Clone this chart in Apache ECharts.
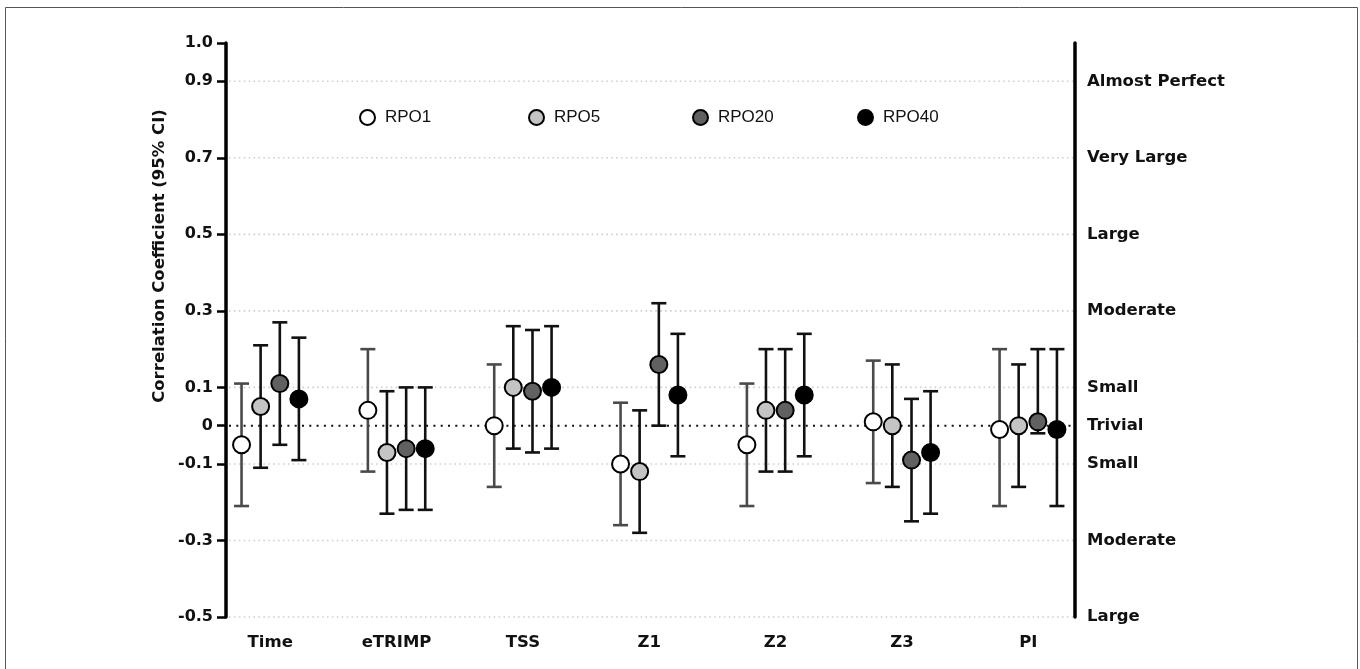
<!DOCTYPE html>
<html>
<head>
<meta charset="utf-8">
<title>Correlation Coefficient (95% CI)</title>
<script src="https://cdn.jsdelivr.net/npm/echarts@6/dist/echarts.min.js"></script>
<style>
  html, body { margin: 0; padding: 0; background: #fff; }
  #chart { width: 1360px; height: 669px; }
</style>
</head>
<body>
<div id="chart"></div>
<script>
// categories on the x axis
var categories = ['Time', 'eTRIMP', 'TSS', 'Z1', 'Z2', 'Z3', 'PI'];
var seriesNames = ['RPO1', 'RPO5', 'RPO20', 'RPO40'];

// point estimates, one value per category
var rpo1  = [-0.05,  0.04, 0.00, -0.10, -0.05,  0.01, -0.01];
var rpo5  = [ 0.05, -0.07, 0.10, -0.12,  0.04,  0.00,  0.00];
var rpo20 = [ 0.11, -0.06, 0.09,  0.16,  0.04, -0.09,  0.01];
var rpo40 = [ 0.07, -0.06, 0.10,  0.08,  0.08, -0.07, -0.01];

// 95% CI lower / upper
var rpo1Low  = [-0.21, -0.12, -0.16, -0.26, -0.21, -0.15, -0.21];
var rpo1High = [ 0.11,  0.20,  0.16,  0.06,  0.11,  0.17,  0.20];
var rpo5Low  = [-0.11, -0.23, -0.06, -0.28, -0.12, -0.16, -0.16];
var rpo5High = [ 0.21,  0.09,  0.26,  0.04,  0.20,  0.16,  0.16];
var rpo20Low  = [-0.05, -0.22, -0.07,  0.00, -0.12, -0.25, -0.02];
var rpo20High = [ 0.27,  0.10,  0.25,  0.32,  0.20,  0.07,  0.20];
var rpo40Low  = [-0.09, -0.22, -0.06, -0.08, -0.08, -0.23, -0.21];
var rpo40High = [ 0.23,  0.10,  0.26,  0.24,  0.24,  0.09,  0.20];

// left axis ticks, right axis magnitude labels
var leftTicks = [-0.5, -0.3, -0.1, 0, 0.1, 0.3, 0.5, 0.7, 0.9, 1.0];
var rightTicks = [-0.5, -0.3, -0.1, 0, 0.1, 0.3, 0.5, 0.7, 0.9];
var rightLabels = ['Large', 'Moderate', 'Small', 'Trivial', 'Small', 'Moderate', 'Large', 'Very Large', 'Almost Perfect'];
var gridValues = [-0.5, -0.3, -0.1, 0.1, 0.3, 0.5, 0.7, 0.9];

var values = [rpo1, rpo5, rpo20, rpo40];
var lows = [rpo1Low, rpo5Low, rpo20Low, rpo40Low];
var highs = [rpo1High, rpo5High, rpo20High, rpo40High];

// look
var fills = ['#ffffff', '#c4c4c4', '#616161', '#000000'];
var barColors = ['#4a4a4a', '#111111', '#111111', '#111111'];
var offsets = [-0.227, -0.076, 0.076, 0.227];
var legendLeft = [354, 523, 687, 852];
var X_MIN = 0.65, X_MAX = 7.37;
var fontFam = 'Liberation Sans, Arial, sans-serif';
var boldFam = 'DejaVu Sans, Liberation Sans, sans-serif';

var chartObj = echarts.init(document.getElementById('chart'));

function findIndex(arr, v) {
	for (var i = 0; i < arr.length; i++) {
		if (Math.abs(arr[i] - v) < 1e-6) return i;
	}
	return -1;
}

var series = [];

// dotted reference lines
series.push({
	type: 'custom',
	name: 'grid',
	silent: true,
	z: 1,
	data: gridValues.concat([0]).map(function (v) { return [v]; }),
	encode: { y: 0 },
	renderItem: function (params, api) {
		var v = api.value(0);
		var y = api.coord([X_MIN, v])[1];
		var cs = params.coordSys;
		var isZero = Math.abs(v) < 1e-9;
		return {
			type: 'line',
			shape: { x1: cs.x + 3, y1: y, x2: cs.x + cs.width - 2, y2: y },
			style: isZero
				? { stroke: '#111', lineWidth: 2, lineDash: [2, 5.3] }
				: { stroke: '#cfcfcf', lineWidth: 1.6, lineDash: [1.6, 3.3] }
		};
	}
});

// error bars
for (var s = 0; s < 4; s++) {
	var barData = [];
	for (var i = 0; i < categories.length; i++) {
		barData.push([i + 1 + offsets[s], lows[s][i], highs[s][i]]);
	}
	(function (color) {
		series.push({
			type: 'custom',
			name: seriesNames[s] + ' CI',
			silent: true,
			z: 2,
			data: barData,
			encode: { x: 0, y: [1, 2] },
			renderItem: function (params, api) {
				var lo = api.coord([api.value(0), api.value(1)]);
				var hi = api.coord([api.value(0), api.value(2)]);
				var w = 7.5;
				var st = { stroke: color, lineWidth: 2.6 };
				return {
					type: 'group',
					children: [
						{ type: 'line', shape: { x1: lo[0], y1: lo[1], x2: hi[0], y2: hi[1] }, style: st },
						{ type: 'line', shape: { x1: lo[0] - w, y1: lo[1], x2: lo[0] + w, y2: lo[1] }, style: st },
						{ type: 'line', shape: { x1: hi[0] - w, y1: hi[1], x2: hi[0] + w, y2: hi[1] }, style: st }
					]
				};
			}
		});
	})(barColors[s]);
}

// points
for (var s = 0; s < 4; s++) {
	var pts = [];
	for (var i = 0; i < categories.length; i++) {
		pts.push([i + 1 + offsets[s], values[s][i]]);
	}
	series.push({
		type: 'scatter',
		name: seriesNames[s],
		z: 3,
		symbol: 'circle',
		symbolSize: 17,
		data: pts,
		itemStyle: { color: fills[s], borderColor: '#000', borderWidth: 2, opacity: 1 },
		emphasis: { disabled: true }
	});
}

// one legend per series so the items sit where the original has them
var legends = seriesNames.map(function (name, k) {
	return {
		data: [name],
		top: 104,
		left: legendLeft[k],
		icon: 'circle',
		itemWidth: 15,
		itemHeight: 15,
		selectedMode: false,
		textStyle: { fontFamily: fontFam, fontSize: 17, color: '#111', padding: [0, 0, 0, 5] }
	};
});

var option = {
	animation: false,
	backgroundColor: '#fff',
	graphic: [{
		type: 'rect',
		shape: { x: 5.5, y: 7.5, width: 1352, height: 700 },
		style: { fill: 'none', stroke: '#555', lineWidth: 1 },
		silent: true
	}, {
		// y axis title, sits above the axis middle as in the original
		type: 'text',
		x: 160,
		y: 256,
		rotation: Math.PI / 2,
		silent: true,
		style: {
			text: 'Correlation Coefficient (95% CI)',
			font: 'bold 16.5px ' + boldFam,
			fill: '#111',
			textAlign: 'center',
			textVerticalAlign: 'middle'
		}
	}],
	legend: legends,
	grid: { left: 226, right: 285, top: 43, bottom: 52 },
	xAxis: {
		type: 'value',
		min: X_MIN,
		max: X_MAX,
		axisLine: { show: false },
		axisTick: { show: false },
		splitLine: { show: false },
		axisLabel: {
			customValues: [1, 2, 3, 4, 5, 6, 7],
			margin: 17,
			fontFamily: boldFam,
			fontWeight: 'bold',
			fontSize: 16.5,
			color: '#111',
			formatter: function (v) { return categories[Math.round(v) - 1]; }
		}
	},
	yAxis: [{
		type: 'value',
		position: 'left',
		min: -0.5,
		max: 1.0,
		axisLine: { show: true, lineStyle: { color: '#000', width: 3.5 } },
		axisTick: { show: true, customValues: leftTicks, length: 9, lineStyle: { color: '#000', width: 2.5 } },
		splitLine: { show: false },
		axisLabel: {
			customValues: leftTicks,
			margin: 13,
			fontFamily: boldFam,
			fontWeight: 'bold',
			fontSize: 16,
			color: '#111',
			formatter: function (v) { return Math.abs(v) < 1e-9 ? '0' : v.toFixed(1); }
		}
	}, {
		type: 'value',
		position: 'right',
		min: -0.5,
		max: 1.0,
		axisLine: { show: true, lineStyle: { color: '#000', width: 3.5 } },
		axisTick: { show: false },
		splitLine: { show: false },
		axisLabel: {
			customValues: rightTicks,
			margin: 12,
			fontFamily: boldFam,
			fontWeight: 'bold',
			fontSize: 16.5,
			color: '#111',
			formatter: function (v) {
				var k = findIndex(rightTicks, v);
				return k >= 0 ? rightLabels[k] : '';
			}
		}
	}],
	series: series
};

chartObj.setOption(option);
</script>
</body>
</html>
